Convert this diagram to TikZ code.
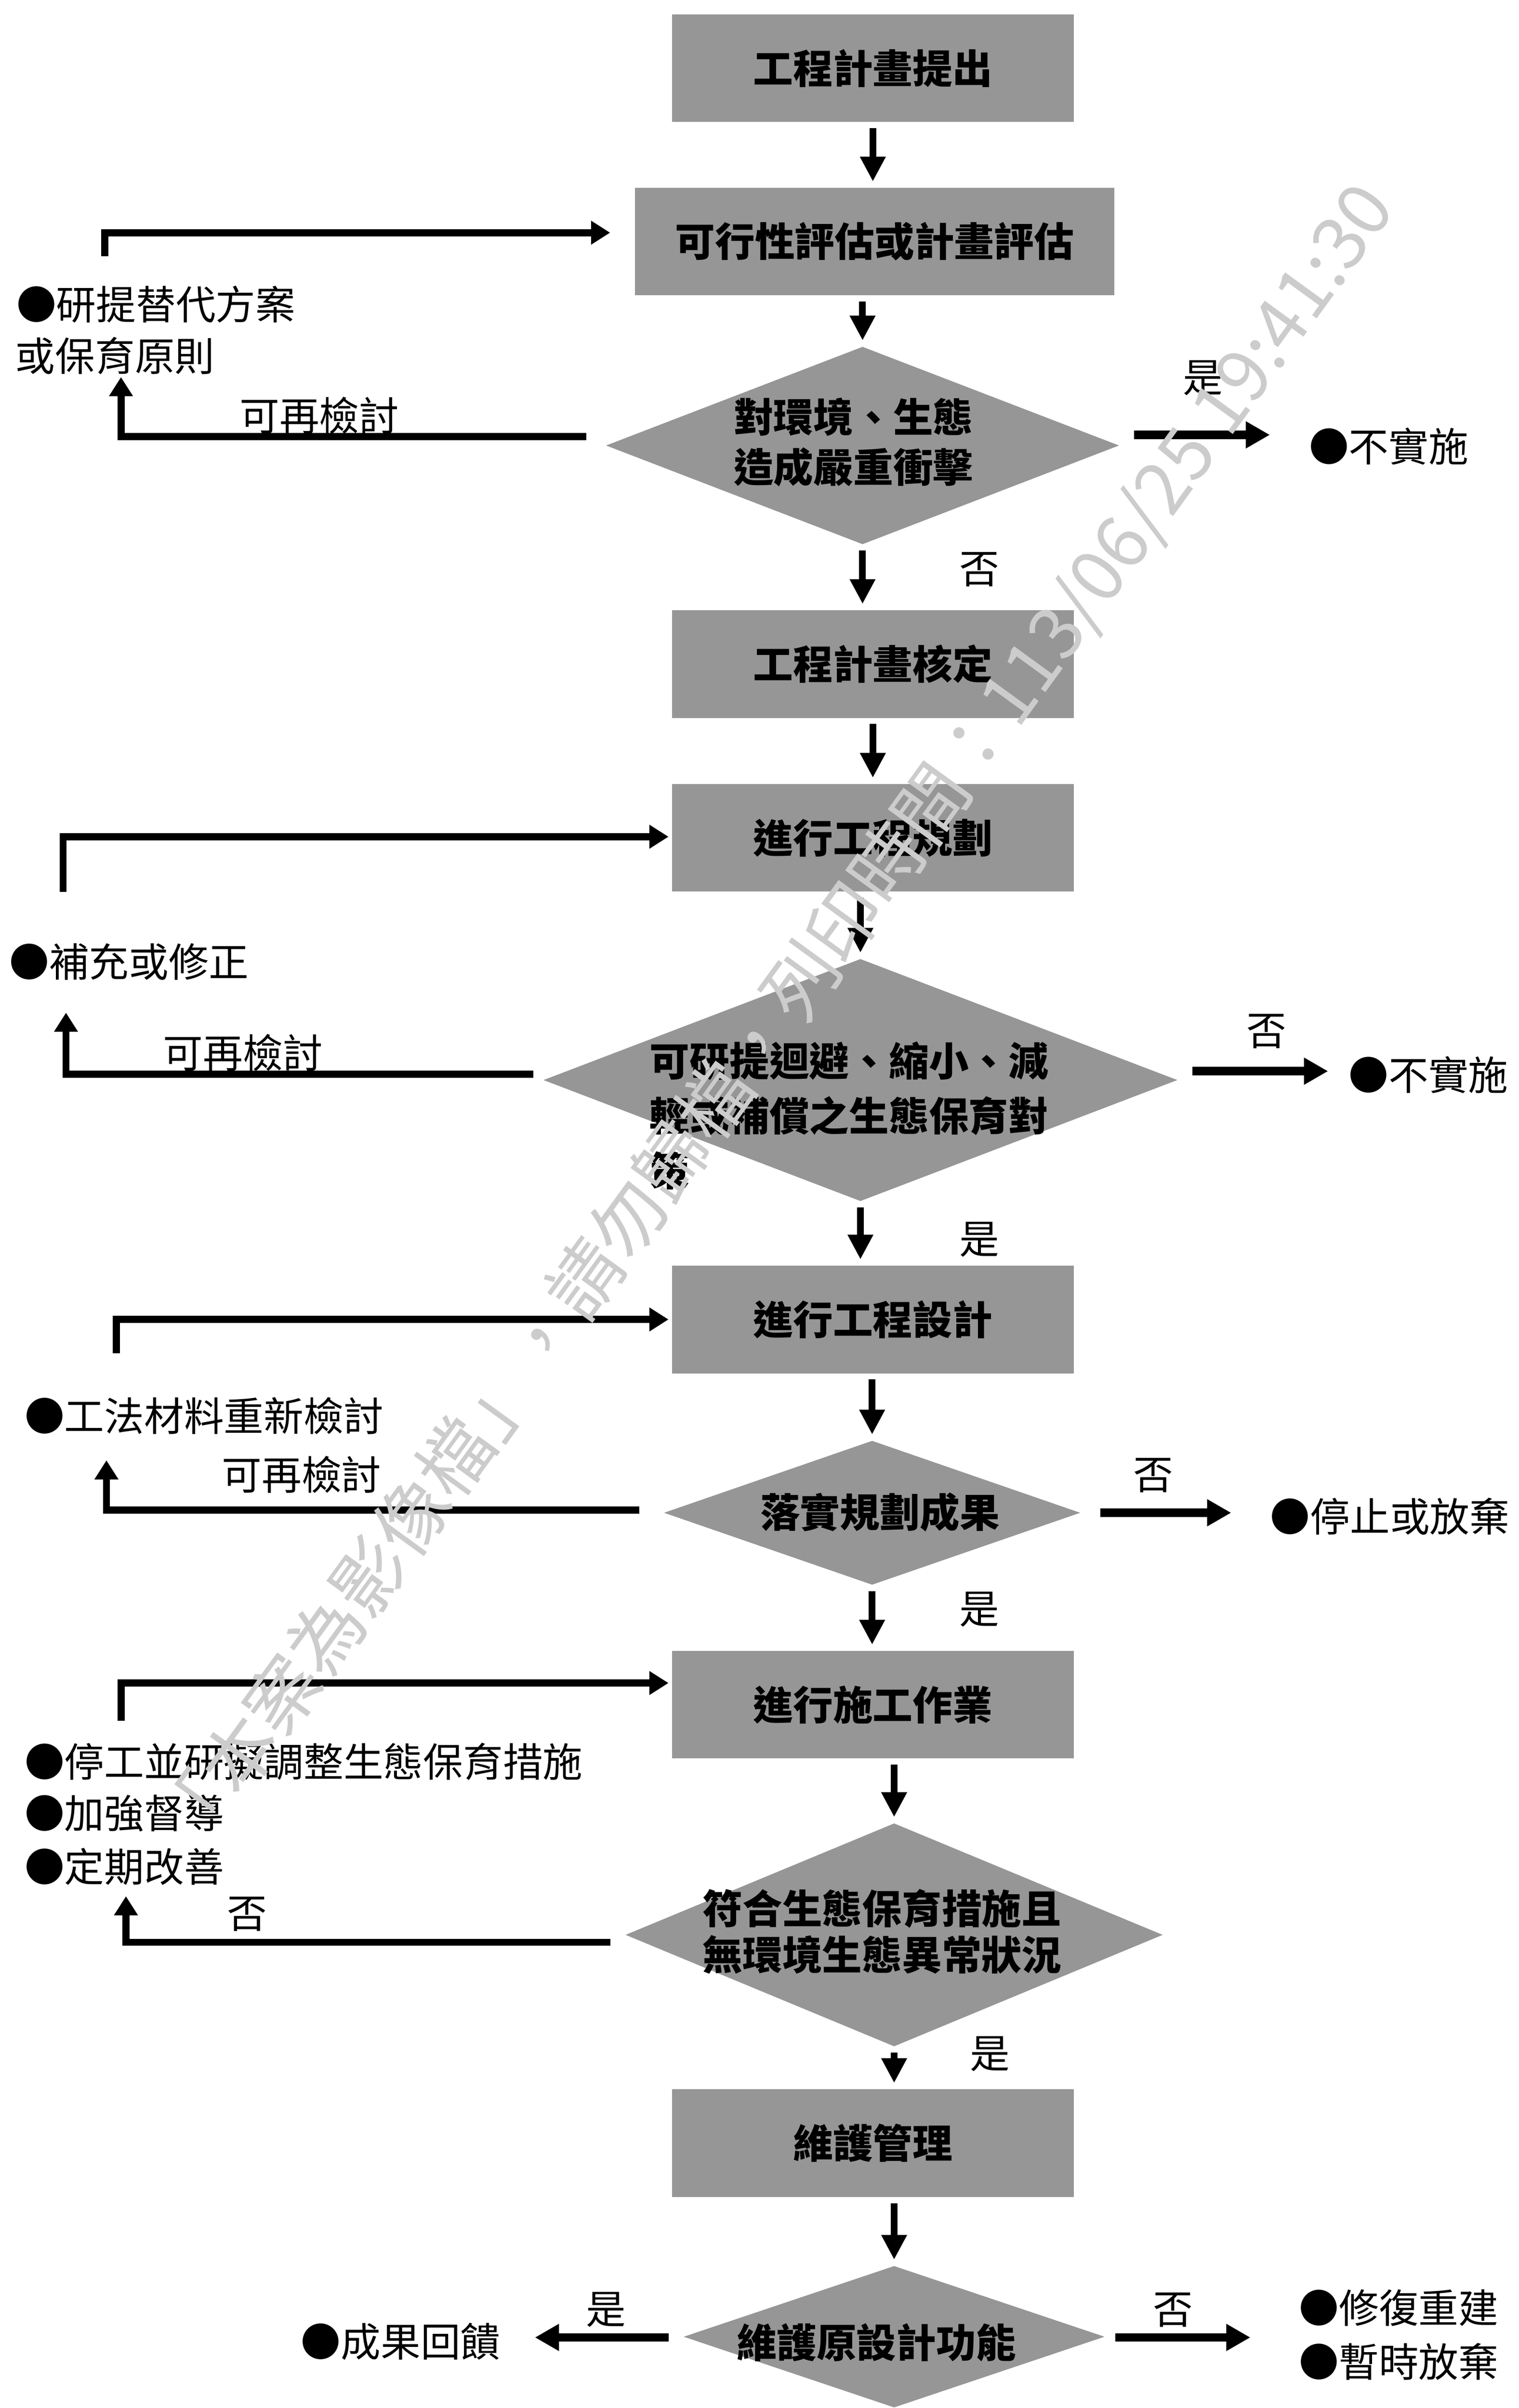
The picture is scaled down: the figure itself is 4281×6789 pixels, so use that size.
\documentclass[tikz,border=0pt]{standalone}
\usepackage{fontspec}
\newfontfamily\cjk{Noto Sans CJK TC}
\usetikzlibrary{arrows.meta,shapes.geometric,calc}
\definecolor{boxgray}{RGB}{150,150,150}
\definecolor{wmgray}{RGB}{204,204,204}
\tikzset{
  procbox/.style={rectangle, fill=boxgray, minimum width=5.67cm, minimum height=1.52cm, inner sep=0pt,
    font=\cjk\bfseries\fontsize{16}{20}\selectfont},
  decbox/.style={diamond, fill=boxgray, inner sep=0pt},
  dectext/.style={inner sep=0pt, align=center, font=\cjk\bfseries\fontsize{16}{20}\selectfont},
  lbl/.style={inner sep=0pt, font=\cjk\fontsize{16}{20}\selectfont},
  mainarr/.style={line width=0.095cm, -{Triangle[length=0.35cm,width=0.34cm]}, shorten <=0.08cm, shorten >=0.08cm},
  fbline/.style={line width=0.1cm, -{Triangle[length=0.27cm,width=0.32cm]}, line join=miter},
  sidearr/.style={line width=0.12cm, -{Triangle[length=0.34cm,width=0.36cm]}},
  wmark/.style={inner sep=0pt, text=wmgray, font=\cjk\fontsize{29.5}{29.5}\selectfont, rotate=54},
}
\begin{document}
\begin{tikzpicture}[x=0.005cm, y=-0.005cm]
\useasboundingbox (0,0) rectangle (4281,6789);

% main column
\node[procbox] (b1) at (2460,192) {工程計畫提出};
\node[procbox, minimum width=6.765cm] (b2) at (2465,681) {可行性評估或計畫評估};
\node[decbox, minimum width=7.24cm, minimum height=2.79cm] (d1) at (2431,1256) {};
\node[dectext] (d1t) at (2405,1247) {對環境、生態\\造成嚴重衝擊};
\node[procbox] (b3) at (2460,1872) {工程計畫核定};
\node[procbox] (b4) at (2460,2362) {進行工程規劃};
\node[decbox, minimum width=8.945cm, minimum height=3.42cm] (d2) at (2425,3045) {};
\node[dectext, align=left, anchor=west, font=\cjk\bfseries\fontsize{16}{22}\selectfont] (d2t) at (1830,3145) {可研提迴避、縮小、減\\輕或補償之生態保育對\\策};
\node[procbox] (b5) at (2460,3720) {進行工程設計};
\node[decbox, minimum width=5.875cm, minimum height=2.035cm] (d3) at (2458,4265) {};
\node[dectext] (d3t) at (2480,4264) {落實規劃成果};
\node[procbox] (b6) at (2460,4806) {進行施工作業};
\node[decbox, minimum width=7.58cm, minimum height=3.15cm] (d4) at (2520,5455) {};
\node[dectext, font=\cjk\bfseries\fontsize{16}{18.5}\selectfont] (d4t) at (2486,5446) {符合生態保育措施且\\無環境生態異常狀況};
\node[procbox] (b7) at (2460,6042) {維護管理};
\node[decbox, minimum width=5.94cm, minimum height=2.0cm] (d5) at (2520,6588) {};
\node[dectext] (d5t) at (2470,6604) {維護原設計功能};

% side texts
\node[lbl, anchor=west] (alt1) at (45,858) {●研提替代方案};
\node[lbl, anchor=west] (alt2) at (42,1003) {或保育原則};
\node[lbl, anchor=west] (ni1) at (3688,1259) {●不實施};
\node[lbl, anchor=west] (supp) at (25,2712) {●補充或修正};
\node[lbl, anchor=west] (ni2) at (3800,3030) {●不實施};
\node[lbl, anchor=west] (rev) at (68,3991) {●工法材料重新檢討};
\node[lbl, anchor=west] (stp) at (3579,4275) {●停止或放棄};
\node[lbl, anchor=west] (m1) at (68,4967) {●停工並研擬調整生態保育措施};
\node[lbl, anchor=west] (m2) at (68,5113) {●加強督導};
\node[lbl, anchor=west] (m3) at (68,5262) {●定期改善};
\node[lbl, anchor=west] (fbk) at (847,6601) {●成果回饋};
\node[lbl, anchor=west] (rep) at (3660,6507) {●修復重建};
\node[lbl, anchor=west] (abn) at (3660,6658) {●暫時放棄};

% connector labels
\node[lbl] (l1) at (3390,1065) {是};
\node[lbl] (l2) at (2760,1605) {否};
\node[lbl] (l3) at (900,1172) {可再檢討};
\node[lbl] (l4) at (3570,2908) {否};
\node[lbl] (l5) at (685,2968) {可再檢討};
\node[lbl] (l6) at (2760,3495) {是};
\node[lbl] (l7) at (850,4157) {可再檢討};
\node[lbl] (l8) at (3250,4159) {否};
\node[lbl] (l9) at (2760,4538) {是};
\node[lbl] (l10) at (697,5396) {否};
\node[lbl] (l11) at (2790,5790) {是};
\node[lbl] (l12) at (1708,6512) {是};
\node[lbl] (l13) at (3306,6512) {否};

% main arrows
\draw[mainarr] (b1.south) -- (b1.south |- b2.north);
\draw[mainarr] (b2.south -| d1.north) -- (d1.north);
\draw[mainarr] (d1.south) -- (d1.south |- b3.north);
\draw[mainarr] (b3.south) -- (b4.north);
\draw[mainarr] (b4.south -| d2.north) -- (d2.north);
\draw[mainarr] (d2.south) -- (d2.south |- b5.north);
\draw[mainarr] (b5.south -| d3.north) -- (d3.north);
\draw[mainarr] (d3.south) -- (d3.south |- b6.north);
\draw[mainarr] (b6.south -| d4.north) -- (d4.north);
\draw[mainarr] (d4.south) -- (d4.south |- b7.north);
\draw[mainarr] (b7.south -| d5.north) -- (d5.north);

% feedback loops
\coordinate (f1) at (341,1063);
\coordinate (t1) at (295,722);
\draw[fbline] ($(d1.west)+(-54,-25)$) -| (f1);
\draw[fbline] (t1) |- ($(b2.west)+(-68,-25)$);

\coordinate (f2) at (186,2855);
\coordinate (t2) at (178,2515);
\draw[fbline] ($(d2.west)+(-27,-16)$) -| (f2);
\draw[fbline] (t2) |- ($(b4.west)+(-8,-3)$);

\coordinate (f3) at (300,4117);
\coordinate (t3) at (328,3815);
\draw[fbline] ($(d3.west)+(-68,-8)$) -| (f3);
\draw[fbline] (t3) |- ($(b5.west)+(-8,0)$);

\coordinate (f4) at (355,5346);
\coordinate (t4) at (341,4852);
\draw[fbline] ($(d4.west)+(-41,21)$) -| (f4);
\draw[fbline] (t4) |- ($(b6.west)+(-8,-61)$);

% side arrows
\draw[sidearr] ($(d1.east)+(41,-30)$) -- ($(d1.east -| ni1.west)+(-109,-30)$);
\draw[sidearr] ($(d2.east)+(41,-25)$) -- ($(d2.east -| ni2.west)+(-57,-25)$);
\draw[sidearr] ($(d3.east)+(55,0)$) -- ($(d3.east -| stp.west)+(-109,0)$);
\coordinate (r5) at (3524,6590);
\draw[sidearr] ($(d5.east)+(28,2)$) -- (r5);
\draw[sidearr] ($(d5.west)+(-41,2)$) -- ($(d5.west -| fbk.east)+(96,2)$);

% watermark
\node[wmark] (wm) at (2190,2875) {「本案為影像檔」，請勿歸檔，列印時間：113/06/25 19:41:30};
\end{tikzpicture}
\end{document}
